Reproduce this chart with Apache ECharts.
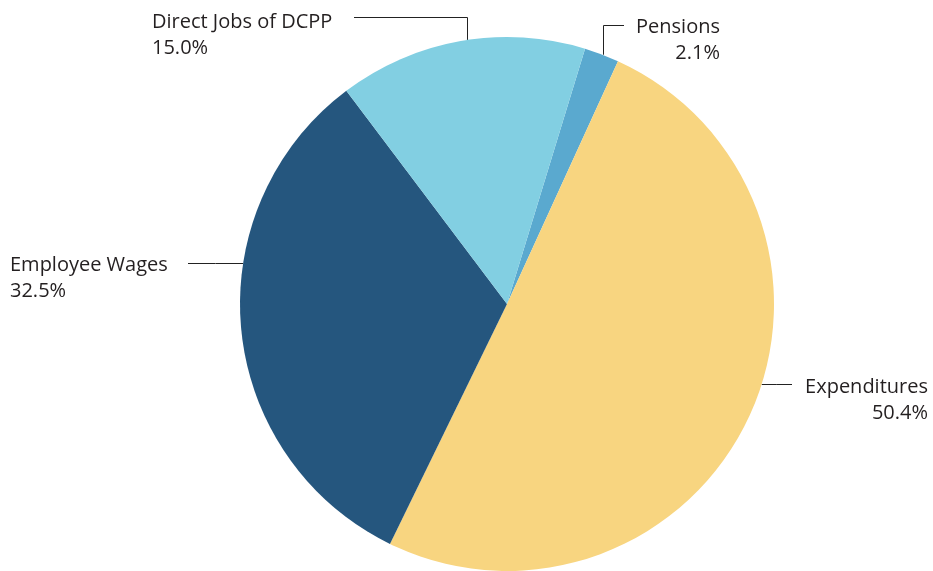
<!DOCTYPE html>
<html>
<head>
<meta charset="utf-8">
<script src="https://cdn.jsdelivr.net/npm/echarts@6/dist/echarts.min.js"></script>
<style>html,body{margin:0;padding:0;background:#fff}#c{width:933px;height:571px}</style>
</head>
<body>
<div id="c"></div>
<script>
const categories = ['Pensions', 'Expenditures', 'Employee Wages', 'Direct Jobs of DCPP'];
const values = [2.1, 50.4, 32.5, 15.0];
const colors = ['#5aa9cf', '#f8d580', '#25567e', '#82cfe2'];

const CX = 507, CY = 304, R = 267;
// label placement: edge angle (deg clockwise from top), elbow and text anchor
const labelPlace = [
  { ang: 21, elbow: [603.5, 25.5], end: [624, 25.5], tx: 720, ty: 14, align: 'right' },
  { ang: 107.5, elbow: null, end: [792, 384.5], tx: 928, ty: 374, align: 'right' },
  { ang: 278.8, elbow: null, end: [188, 263.5], tx: 10, ty: 252, align: 'left' },
  { ang: -8.7, elbow: [467.5, 17.5], end: [354, 17.5], tx: 152, ty: 9, align: 'left' }
];

const chart = echarts.init(document.getElementById('c'), null, { renderer: 'canvas' });
chart.setOption({
  animation: false,
  backgroundColor: '#ffffff',
  series: [{
    type: 'pie',
    center: [CX, CY],
    radius: [0, R],
    startAngle: 73,
    clockwise: true,
    data: categories.map((c, i) => ({ name: c, value: values[i], itemStyle: { color: colors[i] } })),
    itemStyle: { borderWidth: 0 },
    emphasis: { disabled: true },
    label: {
      show: true,
      position: 'outside',
      formatter: p => p.name + '\n' + p.value.toFixed(1) + '%',
      fontFamily: 'Open Sans',
      fontSize: 20,
      lineHeight: 26,
      color: '#231f20'
    },
    labelLine: { show: true, lineStyle: { color: '#222222', width: 1 } },
    labelLayout: function (params) {
      const L = labelPlace[params.dataIndex];
      const a = L.ang * Math.PI / 180;
      const p0 = [CX + R * Math.sin(a), CY - R * Math.cos(a)];
      const p1 = L.elbow ? L.elbow : [(p0[0] + L.end[0]) / 2, L.end[1]];
      if (!L.elbow) p0[1] = L.end[1];
      if (L.elbow) p0[0] = L.elbow[0];
      return {
        x: L.tx,
        y: L.ty,
        align: L.align,
        verticalAlign: 'top',
        labelLinePoints: [p0, p1, L.end]
      };
    }
  }]
});
</script>
</body>
</html>
